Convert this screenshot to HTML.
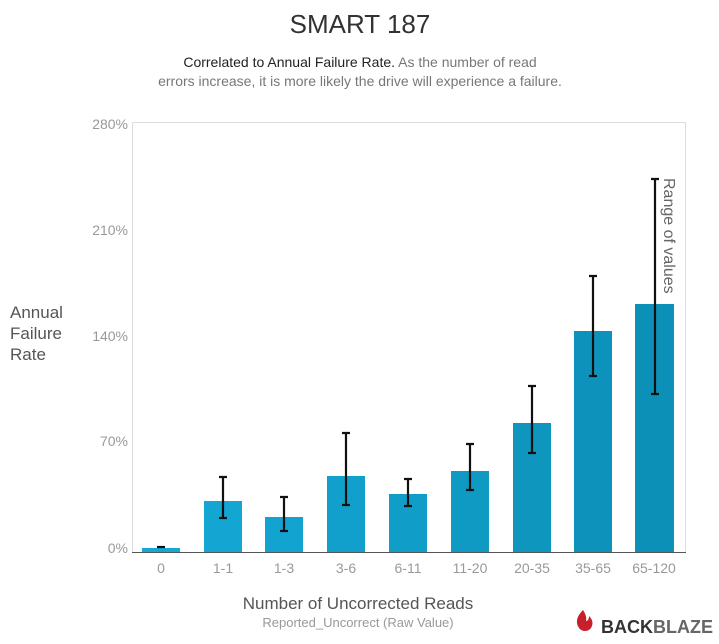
<!DOCTYPE html>
<html><head><meta charset="utf-8"><style>
body{margin:0;background:#fff;}
svg{display:block;font-family:"Liberation Sans",sans-serif;}
</style></head><body>
<svg width="719" height="644" viewBox="0 0 719 644" xmlns="http://www.w3.org/2000/svg">
<rect width="719" height="644" fill="#fff"/>
<text x="360" y="33" text-anchor="middle" font-size="26" fill="#333">SMART 187</text>
<text x="360" y="67" text-anchor="middle" font-size="14" fill="#222">Correlated to Annual Failure Rate. <tspan fill="#777">As the number of read</tspan></text>
<text x="360" y="86" text-anchor="middle" font-size="14" fill="#777">errors increase, it is more likely the drive will experience a failure.</text>
<g font-size="14" fill="#999" text-anchor="end">
<text x="128" y="129">280%</text>
<text x="128" y="235">210%</text>
<text x="128" y="341">140%</text>
<text x="128" y="446">70%</text>
<text x="128" y="553">0%</text>
</g>
<path d="M132.5 122.5H685.5V552M132.5 122.5V552" fill="none" stroke="#ddd"/>
<text font-size="17" fill="#555"><tspan x="10" y="318">Annual</tspan><tspan x="10" y="339">Failure</tspan><tspan x="10" y="360">Rate</tspan></text>
<g>
<rect x="142" y="548" width="38" height="4" fill="#14a8d6"/>
<rect x="204" y="501" width="38" height="51" fill="#13a6d3"/>
<rect x="265" y="517" width="38" height="35" fill="#12a3d0"/>
<rect x="327" y="476" width="38" height="76" fill="#11a0cc"/>
<rect x="389" y="494" width="38" height="58" fill="#109dc8"/>
<rect x="451" y="471" width="38" height="81" fill="#0f9ac4"/>
<rect x="513" y="423" width="38" height="129" fill="#0e96bf"/>
<rect x="574" y="331" width="38" height="221" fill="#0d93bb"/>
<rect x="635" y="304" width="39" height="248" fill="#0c90b7"/>
</g>
<g stroke="#111" stroke-width="2.2">
<path d="M157 547h8"/>
<path d="M223 477v41M219 477h8M219 518h8"/>
<path d="M284 497v34M280 497h8M280 531h8"/>
<path d="M346 433v72M342 433h8M342 505h8"/>
<path d="M408 479v27M404 479h8M404 506h8"/>
<path d="M470 444v46M466 444h8M466 490h8"/>
<path d="M532 386v67M528 386h8M528 453h8"/>
<path d="M593 276v100M589 276h8M589 376h8"/>
<path d="M655 179v215M651 179h8M651 394h8"/>
</g>
<line x1="132" y1="552.5" x2="686" y2="552.5" stroke="#555" stroke-width="1"/>
<text x="664" y="178" font-size="16" fill="#666" transform="rotate(90 664 178)">Range of values</text>
<g font-size="14" fill="#999" text-anchor="middle">
<text x="161" y="573">0</text><text x="223" y="573">1-1</text><text x="284" y="573">1-3</text>
<text x="346" y="573">3-6</text><text x="408" y="573">6-11</text><text x="470" y="573">11-20</text>
<text x="532" y="573">20-35</text><text x="593" y="573">35-65</text><text x="654" y="573">65-120</text>
</g>
<text x="358" y="609" text-anchor="middle" font-size="17" fill="#555">Number of Uncorrected Reads</text>
<text x="358" y="627" text-anchor="middle" font-size="13" fill="#999">Reported_Uncorrect (Raw Value)</text>
<path d="M583 610c-6 6-8 12-4 18 3 4 9 4 12 0 3-5 1-9-2-12 0 3-1 5-3 5 1-4-1-8-3-11z" fill="#c8202b"/>
<text x="601" y="633" font-size="18" font-weight="bold" fill="#333">BACK<tspan fill="#666">BLAZE</tspan></text>
</svg>
</body></html>
